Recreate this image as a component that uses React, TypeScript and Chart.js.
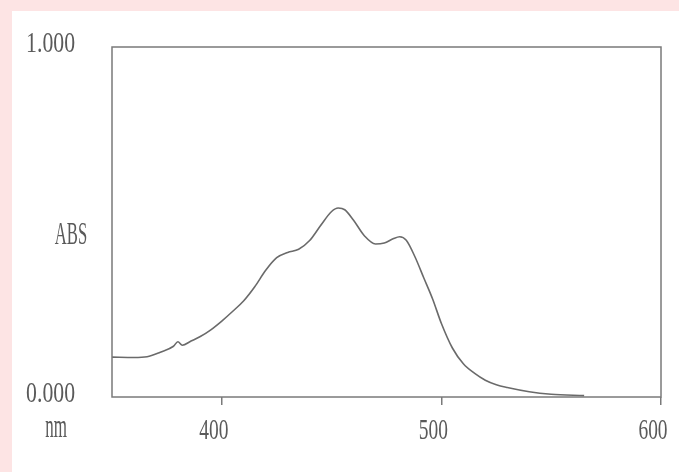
import React, { useEffect, useRef } from "react";
import { Chart, registerables } from "chart.js";

Chart.register(...registerables);

const wavelengths = [350, 360, 366, 372, 378, 380, 382, 386, 390, 395, 400, 405, 410, 415, 420, 425, 430, 435, 440, 445, 450, 453, 456, 460, 465, 470, 474, 478, 481, 484, 488, 492, 496, 500, 505, 510, 515, 520, 525, 530, 540, 550, 565];
const absorbance = [0.114, 0.113, 0.115, 0.128, 0.145, 0.158, 0.148, 0.16, 0.172, 0.192, 0.217, 0.245, 0.275, 0.315, 0.362, 0.398, 0.413, 0.422, 0.447, 0.49, 0.53, 0.54, 0.535, 0.505, 0.46, 0.437, 0.44, 0.452, 0.458, 0.448, 0.4, 0.34, 0.28, 0.21, 0.14, 0.095, 0.068, 0.048, 0.035, 0.027, 0.015, 0.008, 0.004];
const xTicks = [400, 500, 600];
const yTicks = [0, 1];
const yTitle = "ABS";
const xTitle = "nm";

function drawStretched(ctx: CanvasRenderingContext2D, text: string, x: number, y: number, size: number, sx: number, align: CanvasTextAlign) {
  ctx.save();
  ctx.translate(x, y);
  ctx.scale(sx, 1);
  ctx.font = `${size}px "Liberation Serif", serif`;
  ctx.fillStyle = "#5a5a5a";
  ctx.textAlign = align;
  ctx.textBaseline = "middle";
  ctx.fillText(text, 0, 0);
  ctx.restore();
}

const decor = {
  id: "decor",
  beforeDraw(chart: any) {
    const ctx = chart.ctx as CanvasRenderingContext2D;
    ctx.save();
    ctx.fillStyle = "#fde4e4";
    ctx.fillRect(0, 0, chart.width, chart.height);
    ctx.fillStyle = "#ffffff";
    ctx.fillRect(12, 11, chart.width - 12, chart.height - 11);
    ctx.restore();
  },
  afterDraw(chart: any) {
    const ctx = chart.ctx as CanvasRenderingContext2D;
    const a = chart.chartArea;
    const xs = chart.scales.x;
    const ys = chart.scales.y;
    ctx.save();
    ctx.strokeStyle = "#7a7a7a";
    ctx.lineWidth = 1.5;
    ctx.strokeRect(a.left, a.top, a.right - a.left, a.bottom - a.top);
    ctx.restore();
    yTicks.forEach((v) => {
      drawStretched(ctx, v.toFixed(3), a.left - 37, ys.getPixelForValue(v) - 3, 29, 0.75, "right");
    });
    xTicks.forEach((v) => {
      drawStretched(ctx, String(v), xs.getPixelForValue(v) - 8, 431, 29, 0.67, "center");
    });
    drawStretched(ctx, yTitle, 71, 236, 32, 0.52, "center");
    drawStretched(ctx, xTitle, 56, 428, 34, 0.5, "center");
  },
};

export default function App() {
  const ref = useRef<HTMLCanvasElement>(null);
  useEffect(() => {
    document.body.style.margin = "0";
    const chart = new Chart(ref.current as HTMLCanvasElement, {
      type: "line",
      data: {
        datasets: [
          {
            data: wavelengths.map((w, i) => ({ x: w, y: absorbance[i] })),
            borderColor: "#6a6a6a",
            borderWidth: 1.6,
            pointRadius: 0,
            cubicInterpolationMode: "monotone",
            fill: false,
          },
        ],
      },
      options: {
        responsive: false,
        maintainAspectRatio: false,
        animation: false,
        layout: { padding: { top: 47, right: 18, left: 0, bottom: 0 } },
        plugins: { legend: { display: false }, tooltip: { enabled: false } },
        scales: {
          x: {
            type: "linear",
            min: 350,
            max: 600,
            afterBuildTicks: (s: any) => {
              s.ticks = xTicks.map((v) => ({ value: v }));
            },
            afterFit: (s: any) => {
              s.height = 75;
            },
            ticks: { display: false },
            grid: { display: true, drawOnChartArea: false, drawTicks: true, tickLength: 8, color: "#7a7a7a", lineWidth: 1.5 },
            border: { display: false },
          },
          y: {
            type: "linear",
            min: 0,
            max: 1,
            afterBuildTicks: (s: any) => {
              s.ticks = yTicks.map((v) => ({ value: v }));
            },
            afterFit: (s: any) => {
              s.width = 112;
            },
            ticks: { display: false },
            grid: { display: false },
            border: { display: false },
          },
        },
      },
      plugins: [decor],
    } as any);
    return () => chart.destroy();
  }, []);
  return (
    <div style={{ position: "fixed", left: 0, top: 0 }}>
      <canvas ref={ref} width={679} height={472} />
    </div>
  );
}
